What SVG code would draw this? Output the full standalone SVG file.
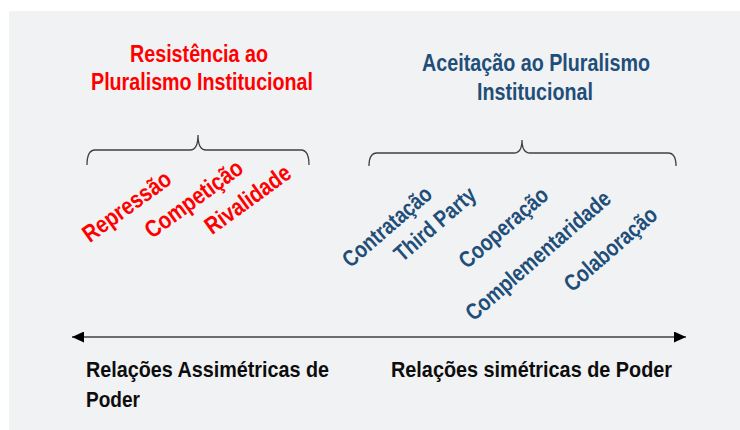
<svg xmlns="http://www.w3.org/2000/svg" width="740" height="430" viewBox="0 0 740 430">
<defs>
<style>
.t{font-family:"Liberation Sans",Arial,sans-serif;font-weight:bold}
.red{fill:#FF0000}
.blue{fill:#1F4E79}
.blk{fill:#0D0D0D}
.brace{fill:none;stroke:#404040;stroke-width:1.3}
.axis{stroke:#404040;stroke-width:1.6}
</style>
<marker id="ah" markerWidth="12" markerHeight="11" refX="12" refY="5.5" orient="auto-start-reverse" markerUnits="userSpaceOnUse">
<path d="M0,0 L12,5.5 L0,11 Z" fill="#000"/>
</marker>
</defs>
<rect x="9" y="11" width="731" height="419" fill="#F1F2F4"/>

<g id="title-resistencia">
<text class="t red" x="130" y="62" font-size="23.5" textLength="138" lengthAdjust="spacingAndGlyphs">Resistência ao</text>
<text class="t red" x="91" y="90" font-size="23.5" textLength="222" lengthAdjust="spacingAndGlyphs">Pluralismo Institucional</text>
</g>
<g id="title-aceitacao">
<text class="t blue" x="422" y="71" font-size="23.5" textLength="228" lengthAdjust="spacingAndGlyphs">Aceitação ao Pluralismo</text>
<text class="t blue" x="477" y="100" font-size="23.5" textLength="116" lengthAdjust="spacingAndGlyphs">Institucional</text>
</g>

<g id="connectors">
<path id="brace-left" class="brace" d="M87,165 Q87,150 95,150 L190,150 Q198,150 198,135 Q198,150 206,150 L301,150 Q309,150 309,165"/>
<path id="brace-right" class="brace" d="M369,166 Q369,153 377,153 L514,153 Q522,153 522,140 Q522,153 530,153 L668,153 Q676,153 676,166"/>
<line id="axis" class="axis" x1="72" y1="337" x2="686" y2="337" marker-start="url(#ah)" marker-end="url(#ah)"/>
</g>

<g id="repressao"><text class="t red" font-size="24" text-anchor="middle" transform="translate(126.5,206) rotate(-36)" y="8.5" textLength="103" lengthAdjust="spacingAndGlyphs">Repressão</text></g>
<g id="competicao"><text class="t red" font-size="24" text-anchor="middle" transform="translate(193.5,198.5) rotate(-36)" y="8.5" textLength="115" lengthAdjust="spacingAndGlyphs">Competição</text></g>
<g id="rivalidade"><text class="t red" font-size="24" text-anchor="middle" transform="translate(247.5,199) rotate(-36)" y="8.5" textLength="100" lengthAdjust="spacingAndGlyphs">Rivalidade</text></g>

<g id="contratacao"><text class="t blue" font-size="23" text-anchor="middle" transform="translate(386.5,226) rotate(-41)" y="8.5" textLength="110" lengthAdjust="spacingAndGlyphs">Contratação</text></g>
<g id="third-party"><text class="t blue" font-size="23" text-anchor="middle" transform="translate(434.5,223.5) rotate(-41)" y="8.5" textLength="100" lengthAdjust="spacingAndGlyphs">Third Party</text></g>
<g id="cooperacao"><text class="t blue" font-size="23" text-anchor="middle" transform="translate(503,227) rotate(-41)" y="8.5" textLength="110" lengthAdjust="spacingAndGlyphs">Cooperação</text></g>
<g id="complementaridade"><text class="t blue" font-size="23" text-anchor="middle" transform="translate(537.5,255) rotate(-41)" y="8.5" textLength="184" lengthAdjust="spacingAndGlyphs">Complementaridade</text></g>
<g id="colaboracao"><text class="t blue" font-size="23" text-anchor="middle" transform="translate(610,248.5) rotate(-41)" y="8.5" textLength="115" lengthAdjust="spacingAndGlyphs">Colaboração</text></g>

<g id="label-assimetricas">
<text class="t blk" x="86" y="377" font-size="22.5" textLength="243" lengthAdjust="spacingAndGlyphs">Relações Assimétricas de</text>
<text class="t blk" x="86" y="407" font-size="22.5" textLength="54" lengthAdjust="spacingAndGlyphs">Poder</text>
</g>
<g id="label-simetricas">
<text class="t blk" x="391" y="377" font-size="22.5" textLength="281" lengthAdjust="spacingAndGlyphs">Relações simétricas de Poder</text>
</g>
</svg>
